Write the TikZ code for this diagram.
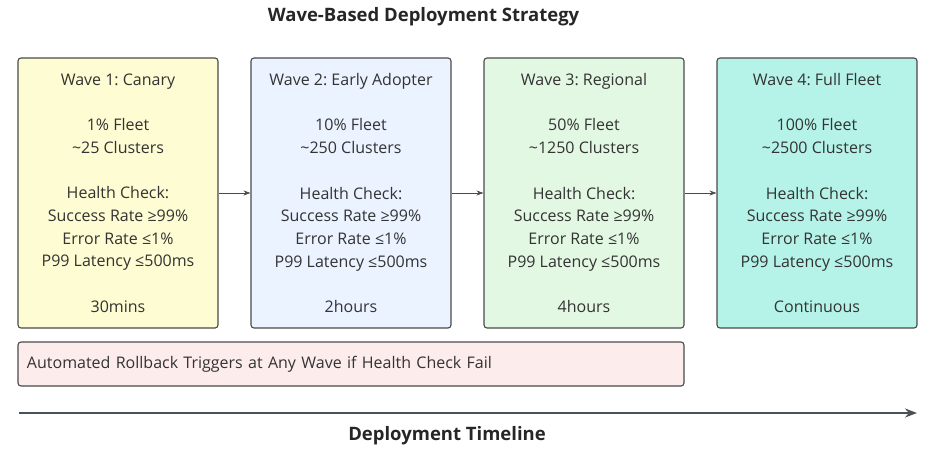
\documentclass[tikz,border=0pt]{standalone}
\usepackage{fontspec}
\setmainfont{Open Sans}
\usetikzlibrary{arrows.meta}
\definecolor{txt}{HTML}{333333}
\definecolor{bord}{HTML}{4A4A4A}
\definecolor{cYellow}{HTML}{FDFCD2}
\definecolor{cBlue}{HTML}{EAF3FF}
\definecolor{cGreen}{HTML}{E2F8E3}
\definecolor{cAqua}{HTML}{B5F3E8}
\definecolor{cPink}{HTML}{FDECEC}
\definecolor{tl}{HTML}{4A5058}
\frenchspacing
\tikzset{
  wave/.style={draw=bord, line width=1.1pt, rounded corners=3pt, minimum width=200pt, minimum height=270pt, align=center, text=txt, font=\fontsize{16}{22.7}\selectfont, inner sep=0pt},
  conn/.style={draw=bord, line width=0.7pt, -{Stealth[length=7pt,width=5pt]}},
  ttl/.style={font=\fontsize{18.5}{20}\selectfont\bfseries, text=black!85}
}
\begin{document}
\begin{tikzpicture}[x=1pt,y=-1pt]
\useasboundingbox (0,0) rectangle (936,453);
\node[ttl] (title) at (423.5,17) {Wave-Based Deployment Strategy};
\node[wave, fill=cYellow] (w1) at (118,193) {Wave 1: Canary\\[22.7pt]1\% Fleet\\\textasciitilde25 Clusters\\[22.7pt]Health Check:\\Success Rate ≥99\%\\Error Rate ≤1\%\\P99 Latency ≤500ms\\[22.7pt]30mins};
\node[wave, fill=cBlue] (w2) at (351,193) {Wave 2: Early Adopter\\[22.7pt]10\% Fleet\\\textasciitilde250 Clusters\\[22.7pt]Health Check:\\Success Rate ≥99\%\\Error Rate ≤1\%\\P99 Latency ≤500ms\\[22.7pt]2hours};
\node[wave, fill=cGreen] (w3) at (584,193) {Wave 3: Regional\\[22.7pt]50\% Fleet\\\textasciitilde1250 Clusters\\[22.7pt]Health Check:\\Success Rate ≥99\%\\Error Rate ≤1\%\\P99 Latency ≤500ms\\[22.7pt]4hours};
\node[wave, fill=cAqua] (w4) at (817,193) {Wave 4: Full Fleet\\[22.7pt]100\% Fleet\\\textasciitilde2500 Clusters\\[22.7pt]Health Check:\\Success Rate ≥99\%\\Error Rate ≤1\%\\P99 Latency ≤500ms\\[22.7pt]Continuous};
\draw[conn] (w1) -- (w2);
\draw[conn] (w2) -- (w3);
\draw[conn] (w3) -- (w4);
\node[draw=bord, line width=1.1pt, rounded corners=3pt, fill=cPink, minimum width=666pt, minimum height=44pt, text width=648pt, align=left, text=txt, font=\fontsize{16}{18}\selectfont, inner sep=0pt] (rb) at (351,364) {Automated Rollback Triggers at Any Wave if Health Check Fail};
\coordinate (ts) at (19,413);
\coordinate (te) at (917,413);
\draw[tl, line width=2.2pt, -{Stealth[length=12pt,width=9pt]}] (ts) -- (te);
\node[ttl] (tlabel) at (447,436) {Deployment Timeline};
\end{tikzpicture}
\end{document}
